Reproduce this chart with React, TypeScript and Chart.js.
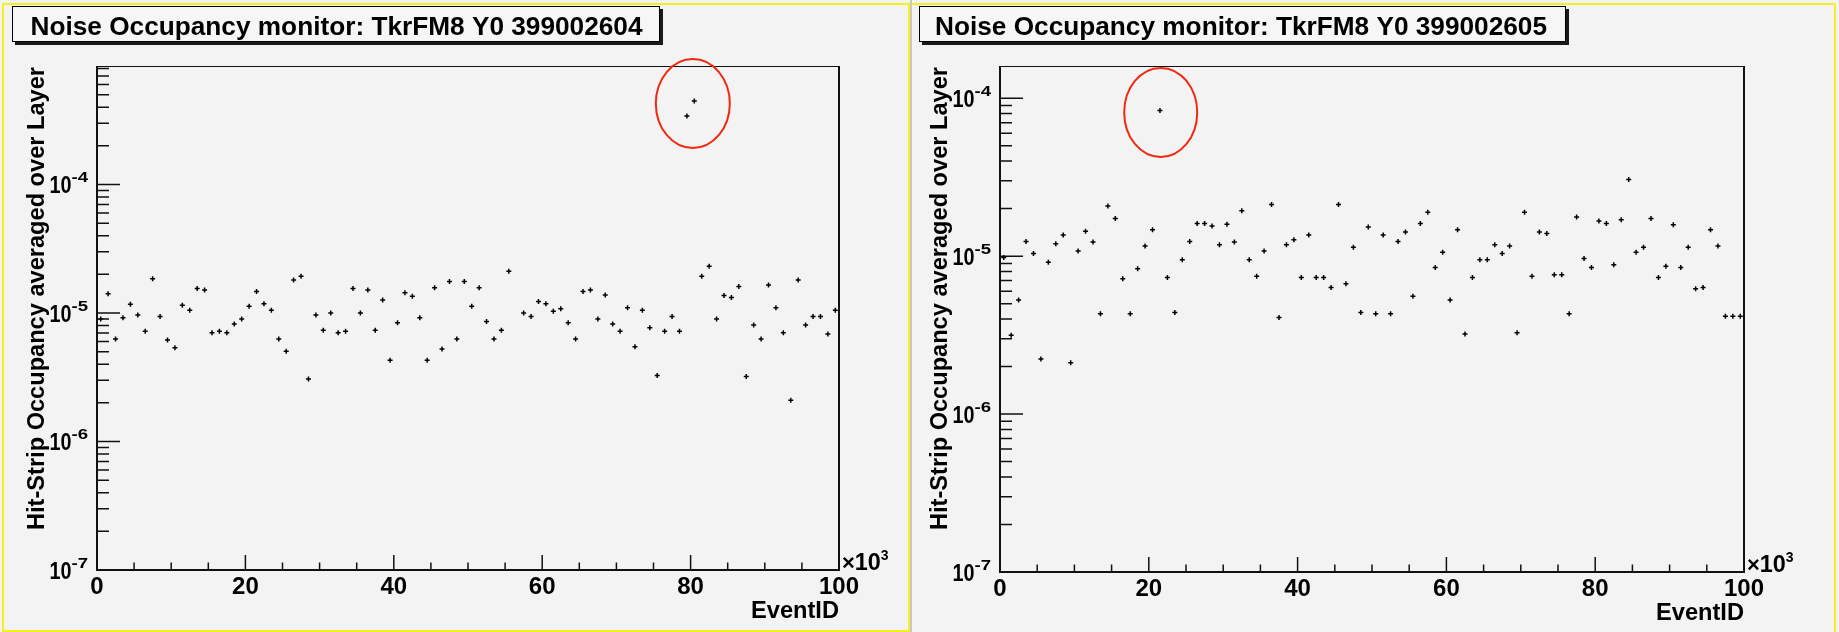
import React, { useEffect, useRef } from 'react';
import { Chart, registerables } from 'chart.js';

Chart.register(...registerables);

// ---------------- data ----------------
// bin centres, in units of 10^3 events
const BIN_CENTERS_K: number[] = [
  0.5, 1.5, 2.5, 3.5, 4.5, 5.5, 6.5, 7.5, 8.5, 9.5,
  10.5, 11.5, 12.5, 13.5, 14.5, 15.5, 16.5, 17.5, 18.5, 19.5,
  20.5, 21.5, 22.5, 23.5, 24.5, 25.5, 26.5, 27.5, 28.5, 29.5,
  30.5, 31.5, 32.5, 33.5, 34.5, 35.5, 36.5, 37.5, 38.5, 39.5,
  40.5, 41.5, 42.5, 43.5, 44.5, 45.5, 46.5, 47.5, 48.5, 49.5,
  50.5, 51.5, 52.5, 53.5, 54.5, 55.5, 56.5, 57.5, 58.5, 59.5,
  60.5, 61.5, 62.5, 63.5, 64.5, 65.5, 66.5, 67.5, 68.5, 69.5,
  70.5, 71.5, 72.5, 73.5, 74.5, 75.5, 76.5, 77.5, 78.5, 79.5,
  80.5, 81.5, 82.5, 83.5, 84.5, 85.5, 86.5, 87.5, 88.5, 89.5,
  90.5, 91.5, 92.5, 93.5, 94.5, 95.5, 96.5, 97.5, 98.5, 99.5,
];

const OCCUPANCY_399002604: (number | null)[] = [
  9.0e-6, 1.41e-5, 6.28e-6, 9.2e-6, 1.17e-5, 9.65e-6, 7.2e-6, 1.85e-5, 9.4e-6, 6.17e-6,
  5.37e-6, 1.15e-5, 1.05e-5, 1.55e-5, 1.51e-5, 7.03e-6, 7.2e-6, 7.03e-6, 8.2e-6, 9.0e-6,
  1.13e-5, 1.47e-5, 1.18e-5, 1.05e-5, 6.28e-6, 5.03e-6, 1.81e-5, 1.93e-5, 3.06e-6, 9.65e-6,
  7.33e-6, 1.0e-5, 7.03e-6, 7.2e-6, 1.55e-5, 1.0e-5, 1.51e-5, 7.33e-6, 1.26e-5, 4.28e-6,
  8.41e-6, 1.44e-5, 1.35e-5, 9.2e-6, 4.28e-6, 1.57e-5, 5.25e-6, 1.76e-5, 6.28e-6, 1.76e-5,
  1.13e-5, 1.57e-5, 8.6e-6, 6.28e-6, 7.33e-6, 2.11e-5, null, 1.0e-5, 9.4e-6, 1.23e-5,
  1.18e-5, 1.03e-5, 1.08e-5, 8.41e-6, 6.28e-6, 1.47e-5, 1.51e-5, 9.0e-6, 1.38e-5, 8.2e-6,
  7.2e-6, 1.10e-5, 5.47e-6, 1.05e-5, 7.69e-6, 3.27e-6, 7.2e-6, 9.4e-6, 7.2e-6, 3.41e-4,
  4.47e-4, 1.93e-5, 2.31e-5, 9.0e-6, 1.37e-5, 1.32e-5, 1.61e-5, 3.2e-6, 8.07e-6, 6.28e-6,
  1.65e-5, 1.10e-5, 7.03e-6, 2.09e-6, 1.81e-5, 8.07e-6, 9.4e-6, 9.4e-6, 6.87e-6, 1.05e-5,
];

const OCCUPANCY_399002605: (number | null)[] = [
  9.8e-6, 3.16e-6, 5.27e-6, 1.24e-5, 1.04e-5, 2.23e-6, 9.16e-6, 1.20e-5, 1.36e-5, 2.11e-6,
  1.08e-5, 1.44e-5, 1.23e-5, 4.32e-6, 2.08e-5, 1.73e-5, 7.19e-6, 4.32e-6, 8.32e-6, 1.16e-5,
  1.47e-5, 8.36e-5, 7.33e-6, 4.4e-6, 9.48e-6, 1.24e-5, 1.61e-5, 1.61e-5, 1.55e-5, 1.18e-5,
  1.59e-5, 1.23e-5, 1.94e-5, 9.48e-6, 7.47e-6, 1.08e-5, 2.12e-5, 4.09e-6, 1.18e-5, 1.27e-5,
  7.33e-6, 1.36e-5, 7.33e-6, 7.33e-6, 6.34e-6, 2.12e-5, 6.68e-6, 1.14e-5, 4.4e-6, 1.53e-5,
  4.32e-6, 1.36e-5, 4.32e-6, 1.24e-5, 1.42e-5, 5.58e-6, 1.61e-5, 1.90e-5, 8.48e-6, 1.06e-5,
  5.27e-6, 1.47e-5, 3.22e-6, 7.33e-6, 9.48e-6, 9.48e-6, 1.18e-5, 1.04e-5, 1.16e-5, 3.27e-6,
  1.90e-5, 7.47e-6, 1.42e-5, 1.39e-5, 7.62e-6, 7.62e-6, 4.32e-6, 1.77e-5, 9.66e-6, 8.48e-6,
  1.67e-5, 1.61e-5, 8.81e-6, 1.70e-5, 3.06e-5, 1.06e-5, 1.14e-5, 1.73e-5, 7.33e-6, 8.64e-6,
  1.58e-5, 8.48e-6, 1.14e-5, 6.21e-6, 6.34e-6, 1.47e-5, 1.16e-5, 4.17e-6, 4.17e-6, 4.17e-6,
];

const X_TICK_LABELS: string[] = ['0', '20', '40', '60', '80', '100'];
const X_TICK_VALUES: number[] = [0, 20, 40, 60, 80, 100];
const Y_DECADE_EXPONENTS: number[] = [-7, -6, -5, -4, -3];

const TITLE_2604 = 'Noise Occupancy monitor: TkrFM8 Y0 399002604';
const TITLE_2605 = 'Noise Occupancy monitor: TkrFM8 Y0 399002605';
const Y_TITLE = 'Hit-Strip Occupancy averaged over Layer';
const X_TITLE = 'EventID';

// ---------------- styling / layout ----------------
const FONT = '"Liberation Sans", Arial, Helvetica, sans-serif';
const BG = '#f3f3f3';
const YELLOW = '#f5f020';
const H = 632;

type Panel = {
  canvasLeft: number;
  width: number;
  plot: { left: number; right: number; top: number; bottom: number };
  yMax: number;
  title: string;
  titleBox: { x0: number; y0: number; x1: number; y1: number };
  titleTextX: number;
  values: (number | null)[];
  ring: { x: number; y: number; rx: number; ry: number };
  side: 'left' | 'right';
};

const PANELS: Panel[] = [
  {
    canvasLeft: 0,
    width: 912,
    plot: { left: 97, right: 839, top: 66, bottom: 570 },
    yMax: 8.36e-4,
    title: TITLE_2604,
    titleBox: { x0: 12, y0: 6, x1: 660, y1: 42 },
    titleTextX: 30.5,
    values: OCCUPANCY_399002604,
    ring: { x: 80.3, y: 4.27e-4, rx: 37, ry: 44.5 },
    side: 'left',
  },
  {
    canvasLeft: 912,
    width: 927,
    plot: { left: 88, right: 832, top: 66, bottom: 572 },
    yMax: 1.6e-4,
    title: TITLE_2605,
    titleBox: { x0: 7, y0: 6, x1: 654, y1: 42 },
    titleTextX: 23,
    values: OCCUPANCY_399002605,
    ring: { x: 21.6, y: 8.13e-5, rx: 36.5, ry: 44.5 },
    side: 'right',
  },
];

function drawText(
  ctx: CanvasRenderingContext2D,
  text: string,
  x: number,
  y: number,
  font: string,
  align: 'left' | 'right' | 'center',
  targetW?: number,
) {
  ctx.save();
  ctx.font = font;
  ctx.textBaseline = 'alphabetic';
  ctx.textAlign = 'left';
  const w = ctx.measureText(text).width;
  const sx = targetW ? targetW / w : 1;
  const drawn = w * sx;
  const ox = align === 'left' ? 0 : align === 'right' ? -drawn : -drawn / 2;
  ctx.translate(x + ox, y);
  ctx.scale(sx, 1);
  ctx.fillText(text, 0, 0);
  ctx.restore();
  return drawn;
}

function makePlugin(p: Panel) {
  return {
    id: 'rootStyle',
    beforeDraw(chart: any) {
      const ctx: CanvasRenderingContext2D = chart.ctx;
      ctx.save();
      ctx.fillStyle = BG;
      ctx.fillRect(0, 0, chart.width, chart.height);

      // pad borders
      ctx.strokeStyle = YELLOW;
      ctx.lineWidth = 2;
      ctx.beginPath();
      if (p.side === 'left') {
        ctx.rect(3, 4, 906, 627);
      } else {
        ctx.moveTo(0, 4);
        ctx.lineTo(923, 4);
        ctx.lineTo(923, H);
      }
      ctx.stroke();
      if (p.side === 'left') {
        ctx.fillStyle = '#c8c8c8';
        ctx.fillRect(910, 0, 2, H);
      }

      // title box with shadow
      const b = p.titleBox;
      ctx.fillStyle = '#1a1a1a';
      ctx.fillRect(b.x0 + 3, b.y1, b.x1 - b.x0, 3);
      ctx.fillRect(b.x1, b.y0 + 3, 3, b.y1 - b.y0);
      ctx.fillStyle = '#f6f6f6';
      ctx.fillRect(b.x0, b.y0, b.x1 - b.x0, b.y1 - b.y0);
      ctx.strokeStyle = '#000';
      ctx.lineWidth = 1;
      ctx.strokeRect(b.x0 + 0.5, b.y0 + 0.5, b.x1 - b.x0 - 1, b.y1 - b.y0 - 1);
      ctx.fillStyle = '#000';
      drawText(ctx, p.title, p.titleTextX, 34.5, `bold 25.5px ${FONT}`, 'left', 612);
      ctx.restore();
    },
    afterDatasetsDraw(chart: any) {
      const ctx: CanvasRenderingContext2D = chart.ctx;
      const xs = chart.scales.x;
      const ys = chart.scales.y;
      const ca = chart.chartArea;
      ctx.save();

      // frame
      ctx.strokeStyle = '#111';
      ctx.lineWidth = 1;
      ctx.strokeRect(ca.left + 0.5, ca.top + 0.5, ca.right - ca.left, ca.bottom - ca.top);
      ctx.lineWidth = 2;
      ctx.beginPath();
      ctx.moveTo(ca.left, ca.top);
      ctx.lineTo(ca.left, ca.bottom);
      ctx.lineTo(ca.right, ca.bottom);
      ctx.moveTo(ca.right, ca.top);
      ctx.lineTo(ca.right, ca.bottom);
      ctx.stroke();

      // x ticks
      ctx.lineWidth = 1.5;
      ctx.beginPath();
      for (let v = 0; v <= 100; v += 5) {
        const px = xs.getPixelForValue(v);
        const len = v % 20 === 0 ? 15 : 7.5;
        ctx.moveTo(px, ca.bottom);
        ctx.lineTo(px, ca.bottom - len);
      }
      // y ticks
      for (const e of Y_DECADE_EXPONENTS) {
        for (let k = 1; k <= 9; k++) {
          const val = k * Math.pow(10, e);
          if (val < ys.min * 0.999 || val > ys.max * 1.001) continue;
          const py = ys.getPixelForValue(val);
          const len = k === 1 ? 23 : 12;
          ctx.moveTo(ca.left, py);
          ctx.lineTo(ca.left + len, py);
        }
      }
      ctx.stroke();

      ctx.fillStyle = '#000';
      // x labels
      X_TICK_VALUES.forEach((v, i) => {
        drawText(ctx, X_TICK_LABELS[i], xs.getPixelForValue(v), ca.bottom + 24, `bold 24px ${FONT}`, 'center');
      });
      // x10^3
      let cx = ca.right + 3;
      cx += drawText(ctx, '\u00d7', cx, ca.bottom, `bold 22px ${FONT}`, 'left');
      cx += drawText(ctx, '10', cx, ca.bottom, `bold 23px ${FONT}`, 'left', 26);
      drawText(ctx, '3', cx, ca.bottom - 10, `bold 14px ${FONT}`, 'left');

      // y labels
      for (const e of Y_DECADE_EXPONENTS) {
        const val = Math.pow(10, e);
        if (val < ys.min * 0.999 || val > ys.max * 1.001) continue;
        const py = ys.getPixelForValue(val);
        const supW = 16.5;
        const supX = ca.left - 9 - supW;
        drawText(ctx, String(e), supX, py - 2.5, `bold 15px ${FONT}`, 'left', supW);
        drawText(ctx, '10', supX, py + 8.5, `bold 24px ${FONT}`, 'right', 22);
      }

      // axis titles
      drawText(ctx, X_TITLE, ca.right, ca.bottom + 47.5, `bold 24px ${FONT}`, 'right', 88);
      ctx.save();
      ctx.translate(ca.left - 53, ca.top + 1);
      ctx.rotate(-Math.PI / 2);
      drawText(ctx, Y_TITLE, 0, 0, `bold 23px ${FONT}`, 'right', 463);
      ctx.restore();

      // red ring annotation around outlier(s)
      ctx.strokeStyle = '#f02a10';
      ctx.lineWidth = 2;
      ctx.beginPath();
      ctx.ellipse(xs.getPixelForValue(p.ring.x), ys.getPixelForValue(p.ring.y), p.ring.rx, p.ring.ry, 0, 0, Math.PI * 2);
      ctx.stroke();
      ctx.restore();
    },
  };
}

function PanelChart({ panel }: { panel: Panel }) {
  const ref = useRef<HTMLCanvasElement | null>(null);
  useEffect(() => {
    if (!ref.current) return;
    const pts = BIN_CENTERS_K.map((x, i) => ({ x, y: panel.values[i] })).filter((d) => d.y !== null);
    const chart = new Chart(ref.current, {
      type: 'scatter',
      data: {
        datasets: [
          {
            data: pts as any,
            pointStyle: 'cross',
            pointRadius: 2.5,
            pointHoverRadius: 2.5,
            borderColor: '#000',
            backgroundColor: '#000',
            borderWidth: 1.5,
            showLine: false,
          },
        ],
      },
      options: {
        responsive: false,
        animation: false,
        devicePixelRatio: 1,
        layout: {
          padding: {
            left: panel.plot.left,
            top: panel.plot.top,
            right: panel.width - panel.plot.right,
            bottom: H - panel.plot.bottom,
          },
        },
        plugins: { legend: { display: false }, title: { display: false }, tooltip: { enabled: false } },
        events: [],
        scales: {
          x: { type: 'linear', min: 0, max: 100, display: false },
          y: { type: 'logarithmic', min: 1e-7, max: panel.yMax, display: false },
        },
      },
      plugins: [makePlugin(panel) as any],
    });
    return () => chart.destroy();
  }, [panel]);
  return (
    <canvas
      ref={ref}
      width={panel.width}
      height={H}
      style={{ position: 'absolute', left: panel.canvasLeft, top: 0, width: panel.width, height: H }}
    />
  );
}

export default function App() {
  return (
    <div style={{ position: 'fixed', left: 0, top: 0, width: 1839, height: H, background: BG, overflow: 'hidden' }}>
      {PANELS.map((p) => (
        <PanelChart key={p.title} panel={p} />
      ))}
    </div>
  );
}
